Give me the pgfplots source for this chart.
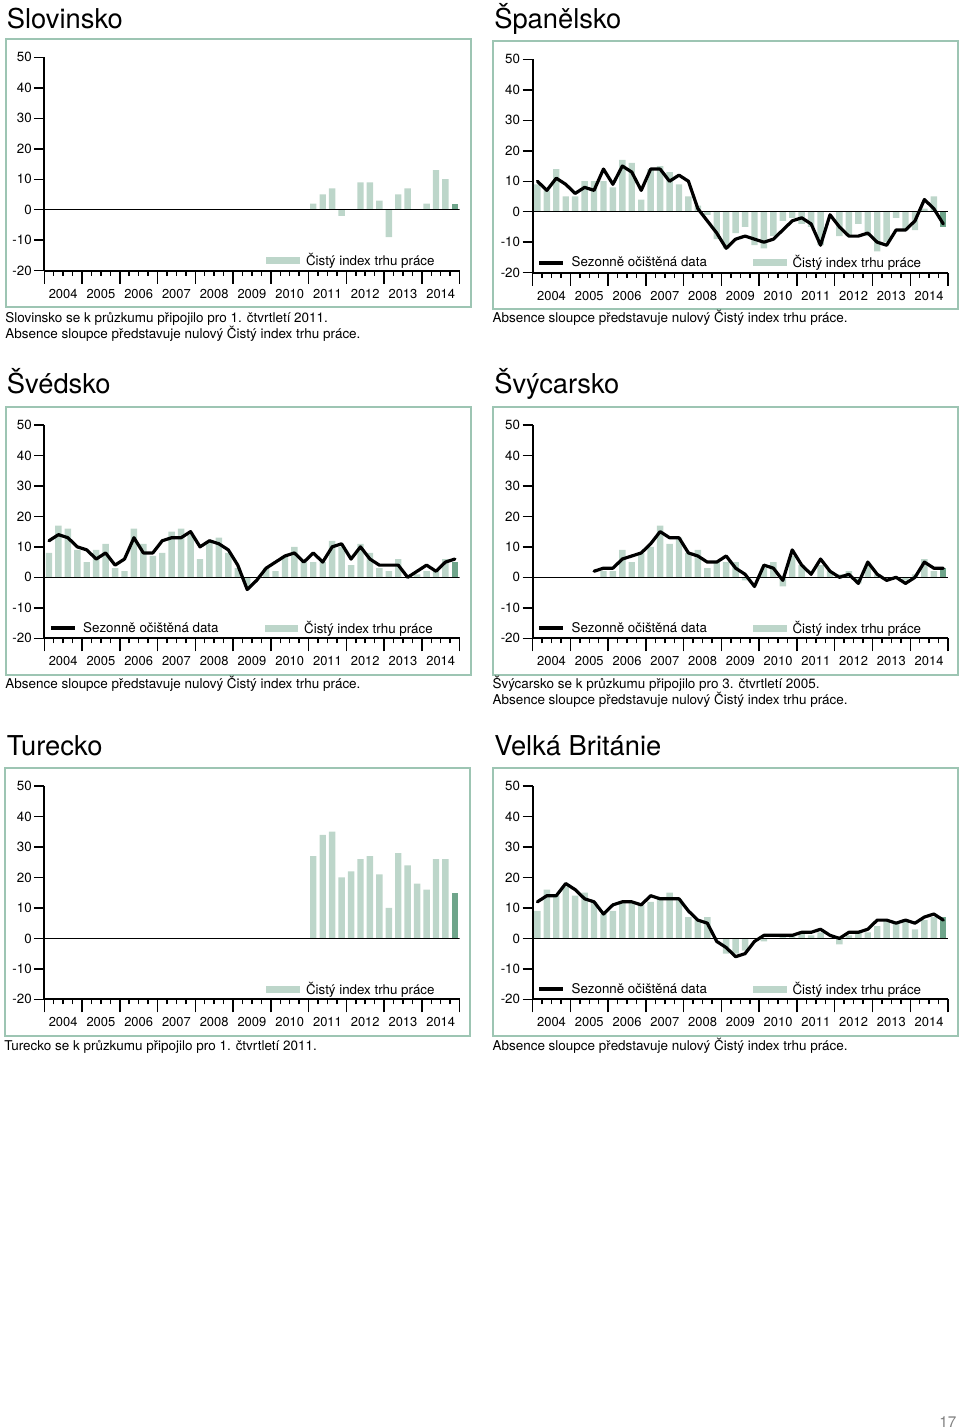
\documentclass[border=0pt]{standalone}
\usepackage{pgfplots}
\usepackage{pgfplotstable}
\pgfplotsset{compat=1.18}
\usepackage{fontspec}
\setmainfont{TeX Gyre Heros}
\definecolor{barl}{HTML}{BDD6CA}
\definecolor{bard}{HTML}{6FA58B}
\definecolor{frm}{HTML}{9DC5B3}

% Slovinsko / Turecko (from 2011 Q1)
\pgfplotstableread{
q    svn  tur
28.5 2    27
29.5 5    34
30.5 7    35
31.5 -2   20
32.5 0    22
33.5 9    26
34.5 9    27
35.5 3    21
36.5 -9   10
37.5 5    28
38.5 7    24
39.5 0    18
40.5 2    16
41.5 13   26
42.5 10   26
43.5 2    15
}\tabSVNTUR

% Spain: nsa sa
\pgfplotstableread{
q    nsa  sa
0.5  9    10
1.5  7    7
2.5  14   11
3.5  5    9
4.5  5    6
5.5  10   8
6.5  10   7
7.5  10   14
8.5  8    9
9.5  17   15
10.5 16   13
11.5 4    7
12.5 14   14
13.5 15   14
14.5 13   10
15.5 9    12
16.5 5    10
17.5 2    1
18.5 -1   -3
19.5 -9   -7
20.5 -12  -12
21.5 -7   -9
22.5 -5   -8
23.5 -11  -9
24.5 -12  -10
25.5 -8   -9
26.5 -3   -6
27.5 -2   -3
28.5 -4   -2
29.5 -5   -4
30.5 -11  -11
31.5 0    -1
32.5 -8   -5
33.5 -8   -8
34.5 -4   -8
35.5 -8   -7
36.5 -13  -10
37.5 -10  -11
38.5 -2   -6
39.5 -6   -6
40.5 -6   -3
41.5 1    4
42.5 5    1
43.5 -5   -4
}\tabESP

\pgfplotstableread{
q    nsa  sa
0.5  8    12
1.5  17   14
2.5  16   13
3.5  9    10
4.5  5    9
5.5  9    6
6.5  11   8
7.5  3    4
8.5  2    6
9.5  16   13
10.5 11   8
11.5 7    8
12.5 8    12
13.5 15   13
14.5 16   13
15.5 14   15
16.5 6    10
17.5 12   12
18.5 13   11
19.5 8    9
20.5 3    4
21.5 -3   -4
22.5 0    -1
23.5 3    3
24.5 2    5
25.5 7    7
26.5 10   8
27.5 5    5
28.5 5    8
29.5 5    5
30.5 12   10
31.5 10   11
32.5 4    6
33.5 11   10
34.5 8    6
35.5 3    4
36.5 2    4
37.5 6    4
38.5 0    0
39.5 1    2
40.5 2    4
41.5 2    2
42.5 6    5
43.5 5    6
}\tabSWE

\pgfplotstableread{
q    nsa  sa
6.5  0    2
7.5  2    3
8.5  2    3
9.5  9    6
10.5 5    7
11.5 8    8
12.5 10   11
13.5 17   15
14.5 11   13
15.5 13   13
16.5 8    8
17.5 9    7
18.5 3    5
19.5 5    5
20.5 5    7
21.5 5    3
22.5 -1   1
23.5 0    -3
24.5 3    4
25.5 5    3
26.5 -3   -1
27.5 7    9
28.5 4    4
29.5 0    1
30.5 4    6
31.5 2    2
32.5 1    0
33.5 2    1
34.5 -2   -2
35.5 4    5
36.5 1    1
37.5 0    -1
38.5 0    0
39.5 -1   -2
40.5 1    0
41.5 6    5
42.5 2    3
43.5 3    3
}\tabCHE

\pgfplotstableread{
q    nsa  sa
0.5  9    12
1.5  16   14
2.5  14   14
3.5  17   18
4.5  14   16
5.5  15   13
6.5  12   12
7.5  8    8
8.5  9    11
9.5  12   12
10.5 12   12
11.5 11   11
12.5 12   14
13.5 13   13
14.5 15   13
15.5 13   13
16.5 7    9
17.5 6    6
18.5 7    5
19.5 0    -1
20.5 -5   -3
21.5 -5   -6
22.5 -4   -5
23.5 0    -1
24.5 -1   1
25.5 0    1
26.5 1    1
27.5 1    1
28.5 2    2
29.5 1    2
30.5 2    3
31.5 0    1
32.5 -2   0
33.5 1    2
34.5 2    2
35.5 2    3
36.5 4    6
37.5 6    6
38.5 5    5
39.5 6    6
40.5 3    5
41.5 6    7
42.5 7    8
43.5 7    6
}\tabGBR

\pgfplotsset{
  panel/.style={
    scale only axis, width=311.5pt, height=160pt, anchor=south west,
    xmin=0, xmax=44, ymin=-20, ymax=50,
    axis x line*=bottom, axis y line*=left,
    axis line style={line width=1.3pt, black},
    tick align=outside,
    major tick length=9.75pt, minor tick length=3.75pt,
    every tick/.style={black, line width=1.1pt},
    xtick={0,4,...,44}, xticklabels={},
    minor xtick={0,1,...,44},
    extra x ticks={2,6,...,42},
    extra x tick labels={2004,2005,2006,2007,2008,2009,2010,2011,2012,2013,2014},
    extra x tick style={major tick length=0pt, tick style={draw=none}},
    xticklabel style={yshift=-13.5pt, font=\fontsize{9.7}{11}\selectfont},
    ytick={-20,-10,...,50},
    yticklabels={-20,-10,0,10,20,30,40,50},
    ytick style={/pgfplots/major tick length=7.5pt},
    ticklabel style={inner sep=0pt},
    yticklabel style={xshift=0.5pt, font=\fontsize{10}{12}\selectfont},
    legend style={draw=none, fill=none, inner sep=0pt, outer sep=0pt, anchor=west,
      font=\fontsize{10}{12}\selectfont,
      /tikz/every odd column/.append style={column sep=2.8pt},
      /tikz/every even column/.append style={column sep=32.5pt}},
    legend cell align=left,
    legend columns=2,
  },
  nsabar/.style={ybar, bar width=0.68, bar shift=0pt, fill=barl, draw=none, forget plot},
  nsadark/.style={ybar, bar width=0.68, bar shift=0pt, fill=bard, draw=none, forget plot},
  saline/.style={black, line width=2.4pt, line join=round, line cap=round, mark=none, forget plot},
  zeroline/.style={black, line width=1pt, mark=none, forget plot},
  linelegend/.style={legend image code/.code={\draw[black, line width=3pt] (0pt,0pt) -- (18pt,0pt);}},
  barlegend/.style={legend image code/.code={\fill[barl] (0pt,-2.3pt) rectangle (24.5pt,2.3pt);}},
}

\begin{document}
\begin{tikzpicture}
\useasboundingbox (0pt,0pt) rectangle (720pt,-1071pt);
\tikzset{ttl/.style={anchor=base west, inner sep=0pt, font=\fontsize{20.5}{24}\selectfont},
         note/.style={anchor=base west, inner sep=0pt, font=\fontsize{10.1}{12}\selectfont, align=left}}

% frames
\draw[frm, line width=1.5pt] (4.3pt,-29.25pt) rectangle (353.3pt,-230.5pt);
\draw[frm, line width=1.5pt] (370pt,-30.5pt) rectangle (718.7pt,-232pt);
\draw[frm, line width=1.5pt] (4.3pt,-305.5pt) rectangle (353.3pt,-506.25pt);
\draw[frm, line width=1.5pt] (370pt,-305.5pt) rectangle (718.7pt,-506.25pt);
\draw[frm, line width=1.5pt] (3.5pt,-575.8pt) rectangle (352.5pt,-777pt);
\draw[frm, line width=1.5pt] (370pt,-575.8pt) rectangle (718.7pt,-777pt);

% titles
\node[ttl] at (5pt,-21.2pt) {Slovinsko};
\node[ttl] at (370.5pt,-21.2pt) {Španělsko};
\node[ttl] at (5pt,-295pt) {Švédsko};
\node[ttl] at (370.5pt,-295pt) {Švýcarsko};
\node[ttl] at (5pt,-566.25pt) {Turecko};
\node[ttl] at (370.5pt,-566.25pt) {Velká Británie};

% notes
\node[note] at (3.8pt,-241.8pt) {Slovinsko se k průzkumu připojilo pro 1. čtvrtletí 2011.};
\node[note] at (3.8pt,-253.8pt) {Absence sloupce představuje nulový Čistý index trhu práce.};
\node[note] at (369.2pt,-241.8pt) {Absence sloupce představuje nulový Čistý index trhu práce.};
\node[note] at (3.8pt,-516.7pt) {Absence sloupce představuje nulový Čistý index trhu práce.};
\node[note] at (369.2pt,-516.7pt) {Švýcarsko se k průzkumu připojilo pro 3. čtvrtletí 2005.};
\node[note] at (369.2pt,-528.7pt) {Absence sloupce představuje nulový Čistý index trhu práce.};
\node[note] at (3pt,-788pt) {Turecko se k průzkumu připojilo pro 1. čtvrtletí 2011.};
\node[note] at (369.2pt,-787.5pt) {Absence sloupce představuje nulový Čistý index trhu práce.};

\node[anchor=base east, inner sep=0pt, font=\fontsize{11.5}{13}\selectfont, text=black!50] at (717.5pt,-1070.5pt) {17};

% ---- Slovinsko
\begin{axis}[panel, at={(33.2pt,-203pt)}, legend style={at={(0.535,0.047)}}]
\addlegendimage{barlegend}\addlegendentry{Čistý index trhu práce}
\addplot[nsabar, restrict x to domain=0:43] table[x=q, y=svn] {\tabSVNTUR};
\addplot[nsadark, restrict x to domain=43:44] table[x=q, y=svn] {\tabSVNTUR};
\addplot[zeroline] coordinates {(0,0) (44,0)};
\end{axis}

% ---- Spain
\begin{axis}[panel, at={(399.5pt,-204.5pt)}, legend style={at={(0.011,0.047)}}]
\addlegendimage{linelegend}\addlegendentry{Sezonně očištěná data}
\addlegendimage{barlegend}\addlegendentry{Čistý index trhu práce}
\addplot[nsabar, restrict x to domain=0:43] table[x=q, y=nsa] {\tabESP};
\addplot[nsadark, restrict x to domain=43:44] table[x=q, y=nsa] {\tabESP};
\addplot[zeroline] coordinates {(0,0) (44,0)};
\addplot[saline] table[x=q, y=sa] {\tabESP};
\end{axis}

% ---- Sweden
\begin{axis}[panel, at={(33.2pt,-478.7pt)}, legend style={at={(0.011,0.047)}}]
\addlegendimage{linelegend}\addlegendentry{Sezonně očištěná data}
\addlegendimage{barlegend}\addlegendentry{Čistý index trhu práce}
\addplot[nsabar, restrict x to domain=0:43] table[x=q, y=nsa] {\tabSWE};
\addplot[nsadark, restrict x to domain=43:44] table[x=q, y=nsa] {\tabSWE};
\addplot[zeroline] coordinates {(0,0) (44,0)};
\addplot[saline] table[x=q, y=sa] {\tabSWE};
\end{axis}

% ---- Switzerland
\begin{axis}[panel, at={(399.5pt,-478.7pt)}, legend style={at={(0.011,0.047)}}]
\addlegendimage{linelegend}\addlegendentry{Sezonně očištěná data}
\addlegendimage{barlegend}\addlegendentry{Čistý index trhu práce}
\addplot[nsabar, restrict x to domain=0:43] table[x=q, y=nsa] {\tabCHE};
\addplot[nsadark, restrict x to domain=43:44] table[x=q, y=nsa] {\tabCHE};
\addplot[zeroline] coordinates {(0,0) (44,0)};
\addplot[saline] table[x=q, y=sa] {\tabCHE};
\end{axis}

% ---- Turecko
\begin{axis}[panel, at={(33.2pt,-749.5pt)}, legend style={at={(0.535,0.047)}}]
\addlegendimage{barlegend}\addlegendentry{Čistý index trhu práce}
\addplot[nsabar, restrict x to domain=0:43] table[x=q, y=tur] {\tabSVNTUR};
\addplot[nsadark, restrict x to domain=43:44] table[x=q, y=tur] {\tabSVNTUR};
\addplot[zeroline] coordinates {(0,0) (44,0)};
\end{axis}

% ---- UK
\begin{axis}[panel, at={(399.5pt,-749.5pt)}, legend style={at={(0.011,0.047)}}]
\addlegendimage{linelegend}\addlegendentry{Sezonně očištěná data}
\addlegendimage{barlegend}\addlegendentry{Čistý index trhu práce}
\addplot[nsabar, restrict x to domain=0:43] table[x=q, y=nsa] {\tabGBR};
\addplot[nsadark, restrict x to domain=43:44] table[x=q, y=nsa] {\tabGBR};
\addplot[zeroline] coordinates {(0,0) (44,0)};
\addplot[saline] table[x=q, y=sa] {\tabGBR};
\end{axis}
\end{tikzpicture}
\end{document}
